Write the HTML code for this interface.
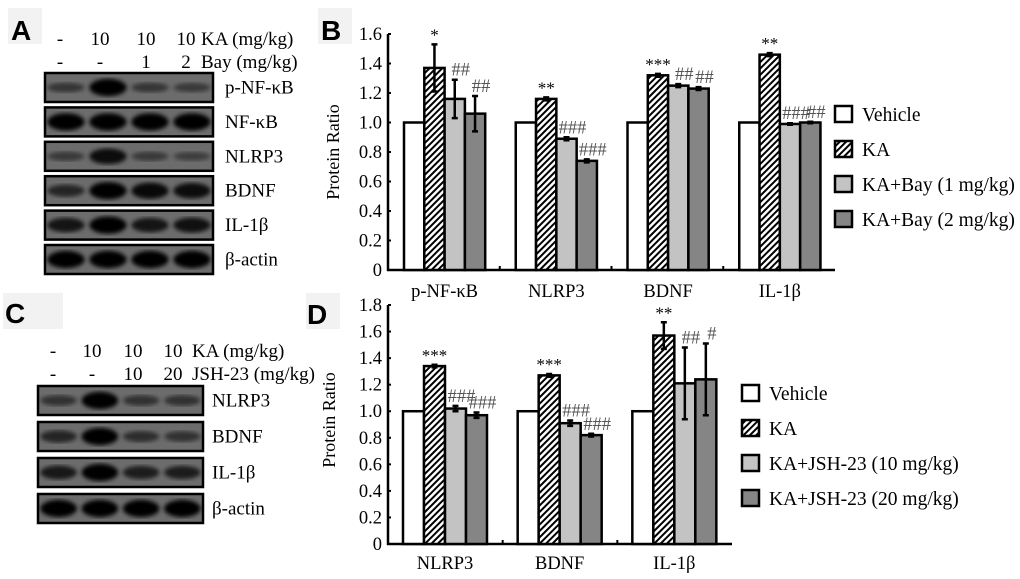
<!DOCTYPE html>
<html><head><meta charset="utf-8"><style>
body{margin:0;background:#fff;}
svg{display:block;font-family:"Liberation Serif",serif;}
.pl{font-family:"Liberation Sans",sans-serif;font-weight:bold;font-size:28px;}
</style></head><body>
<svg id="fig" width="1020" height="579" viewBox="0 0 1020 579">
<defs>
<pattern id="hatch" patternUnits="userSpaceOnUse" width="4.5" height="4.5" patternTransform="rotate(45)">
<rect width="4.5" height="4.5" fill="#fff"/><rect width="2" height="4.5" fill="#000"/></pattern>
<filter id="blur"><feGaussianBlur stdDeviation="2"/></filter>
</defs>
<rect x="8" y="8" width="34" height="36" fill="#f2f2f2"/>
<text class="pl" x="11" y="40">A</text>
<rect x="318" y="8" width="34" height="36" fill="#f2f2f2"/>
<text class="pl" x="321" y="40">B</text>
<rect x="3" y="293" width="60" height="36" fill="#f2f2f2"/>
<text class="pl" x="5" y="323">C</text>
<rect x="306" y="293" width="34" height="36" fill="#f2f2f2"/>
<text class="pl" x="307" y="324">D</text>
<g id="blots"></g>
<g id="chartB"></g>
<g id="chartD"></g>
</svg>
<script>
const NS="http://www.w3.org/2000/svg";
function mk(tag,attrs,parent,txt){const e=document.createElementNS(NS,tag);for(const k in attrs)e.setAttribute(k,attrs[k]);if(txt!==undefined)e.textContent=txt;parent.appendChild(e);return e;}

// ---- blots ----
const blotsA=["p-NF-κB","NF-κB","NLRP3","BDNF","IL-1β","β-actin"];
const intensA=[[0.35,1,0.35,0.3],[1,1,1,1],[0.3,0.85,0.3,0.25],[0.55,1,0.9,0.85],[0.75,1,0.75,0.8],[1,1,1,1]];
const blotsC=["NLRP3","BDNF","IL-1β","β-actin"];
const intensC=[[0.4,1,0.4,0.4],[0.55,1,0.45,0.4],[0.7,1,0.65,0.65],[1,1,1,1]];
const hdrA=[["-","10","10","10","KA (mg/kg)"],["-","-","1","2","Bay (mg/kg)"]];
const hdrC=[["-","10","10","10","KA (mg/kg)"],["-","-","10","20","JSH-23  (mg/kg)"]];
const gB=document.getElementById("blots");
function blot(x,w,top,step,h,names,intens,lx,prefix){
  names.forEach((n,i)=>{
    const y=top+step*i;
    const r=mk("rect",{x:x,y:y,width:w,height:h,fill:"#6c6c6c",stroke:"#000","stroke-width":2.5},gB);
    
    
    intens[i].forEach((v,j)=>{
      const cx=x+w*(j+0.5)/4;
      const e=mk("ellipse",{cx:cx,cy:y+h/2,rx:w/9,ry:h*(0.1+0.2*v),fill:"#000",opacity:0.25+0.75*v,filter:"url(#blur)"},gB);
      
      
    });
    const t=mk("text",{x:lx,y:y+h/2+6,"font-size":19},gB,n);
    
    
  });
}
blot(45,168,73,34.4,29,blotsA,intensA,225,'a');
blot(38,165,386,36,29,blotsC,intensC,212,'c');
function hdr(rows,xs,ys){
  rows.forEach((r,i)=>r.forEach((s,j)=>{
    const t=mk("text",{x:xs[j],y:ys[i],"font-size":19,"text-anchor":j<4?"middle":"start"},gB,s);
    
    
  }));
}
hdr(hdrA,[60,100,146,186,201],[45,68]);
hdr(hdrC,[53,92,133,173,192],[357,380]);

// ---- chart B data ----
const catsB=["p-NF-κB","NLRP3","BDNF","IL-1β"];
const vehB=[1,1,1,1];
const kaB=[1.37,1.16,1.32,1.46];
const kaErrB=[0.16,0.01,0.01,0.01];
const bay1B=[1.16,0.89,1.25,0.99];
const bay1ErrB=[0.13,0.01,0.01,0.005];
const bay2B=[1.06,0.74,1.23,1.0];
const bay2ErrB=[0.12,0.01,0.01,0.005];
const starB=["*","**","***","**"];
const hash1B=["##","###","##","###"];
const hash2B=["##","###","##","##"];
const ticksB=[0,0.2,0.4,0.6,0.8,1.0,1.2,1.4,1.6];
const legB=["Vehicle","KA","KA+Bay (1 mg/kg)","KA+Bay (2 mg/kg)"];
// ---- chart D data ----
const catsD=["NLRP3","BDNF","IL-1β"];
const vehD=[1,1,1];
const kaD=[1.34,1.27,1.57];
const kaErrD=[0.01,0.01,0.10];
const j1D=[1.02,0.91,1.21];
const j1ErrD=[0.02,0.02,0.27];
const j2D=[0.97,0.82,1.24];
const j2ErrD=[0.02,0.01,0.27];
const starD=["***","***","**"];
const hash1D=["###","###","##"];
const hash2D=["###","###","#"];
const ticksD=[0,0.2,0.4,0.6,0.8,1.0,1.2,1.4,1.6,1.8];
const legD=["Vehicle","KA","KA+JSH-23 (10 mg/kg)","KA+JSH-23 (20 mg/kg)"];

const fills=["#fff","url(#hatch)","#c3c3c3","#858585"];
function chart(id,cfg){
  const g=document.getElementById(id);
  const {x0,x1,y0,yTop,vmax,cats,series,errs,star,hash1,hash2,ticks,leg,legX,legY,legStep,catY,bw,off,titleX,titleY}=cfg;
  const ys=v=>y0-(v/vmax)*(y0-yTop);
  const band=(x1-x0)/cats.length;
  const xs=(c,s)=>x0+band*c+off+bw*s;
  let a=mk("line",{x1:x0,y1:yTop,x2:x0,y2:y0+1,stroke:"#000","stroke-width":2.5},g);
  
  a=mk("line",{x1:x0-1,y1:y0,x2:x1,y2:y0,stroke:"#000","stroke-width":2.5},g);
  
  ticks.forEach(t=>{
    const l=mk("line",{x1:x0,x2:x0+3,y1:ys(t),y2:ys(t),stroke:"#000","stroke-width":2},g);
    
    const tx=mk("text",{x:x0-6,y:ys(t)+6,"font-size":18.5,"text-anchor":"end"},g,t===0?"0":t.toFixed(1));
    
  });
  const yt=mk("text",{x:titleX,y:titleY,"font-size":18,"text-anchor":"middle",transform:`rotate(-90 ${titleX} ${titleY})`},g,"Protein Ratio");
  
  cats.forEach((c,ci)=>{
    if(ci>0){const tk=mk("line",{x1:x0+band*ci,x2:x0+band*ci,y1:y0,y2:y0-4,stroke:"#000","stroke-width":2},g);
      }
    const cl=mk("text",{x:xs(ci,2),y:catY,"font-size":18.5,"text-anchor":"middle"},g,c);
    
    series.forEach((sv,si)=>{
      const v=sv[ci];
      const r=mk("rect",{x:xs(ci,si),y:ys(v),width:bw,height:y0-ys(v),fill:fills[si],stroke:"#000","stroke-width":2.5},g);
      
      if(si>0){
        const e=errs[si-1][ci];const cx=xs(ci,si)+bw/2;
        const el=mk("path",{d:`M${cx} ${ys(v-e)}V${ys(v+e)}M${cx-3} ${ys(v-e)}h6M${cx-3} ${ys(v+e)}h6`,stroke:"#000","stroke-width":2.5,fill:"none"},g);
        
        const lab=[star,hash1,hash2][si-1][ci];
        const tx=mk("text",{x:cx+(si>1?6:0),y:ys(v+e)-4,"font-size":si===1?17:18.5,"text-anchor":"middle",fill:si===1?"#000":"#555"},g,lab);
        
      }
    });
  });
  leg.forEach((l,i)=>{
    const y=legY+legStep*i;
    const r=mk("rect",{x:legX,y:y-8,width:17,height:16,fill:fills[i],stroke:"#000","stroke-width":2.5},g);
    
    const t=mk("text",{x:legX+27,y:y+7,"font-size":19.5},g,l);
    
  });
}
chart("chartB",{x0:388,x1:835,y0:270,yTop:34,vmax:1.6,cats:catsB,series:[vehB,kaB,bay1B,bay2B],errs:[kaErrB,bay1ErrB,bay2ErrB],star:starB,hash1:hash1B,hash2:hash2B,ticks:ticksB,leg:legB,legX:835,legY:114,legStep:35,catY:297,bw:20.3,off:16,titleX:339,titleY:152});
chart("chartD",{x0:388,x1:732,y0:544,yTop:305,vmax:1.8,cats:catsD,series:[vehD,kaD,j1D,j2D],errs:[kaErrD,j1ErrD,j2ErrD],star:starD,hash1:hash1D,hash2:hash2D,ticks:ticksD,leg:legD,legX:742,legY:393,legStep:35,catY:569,bw:21,off:15,titleX:335,titleY:420});
</script>
</body></html>
